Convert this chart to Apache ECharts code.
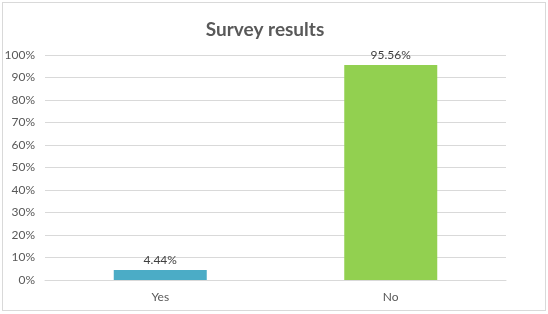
<!DOCTYPE html>
<html><head><meta charset="utf-8">
<script src="https://cdn.jsdelivr.net/npm/echarts@6/dist/echarts.min.js"></script>
<style>html,body{margin:0;padding:0;background:#fff}#c{width:548px;height:314px}
#f{position:absolute;left:2px;top:2px;width:542px;height:307px;border:1px solid #d9d9d9;pointer-events:none}</style>
</head><body><div id="c"></div><div id="f"></div>
<script>
const categories = ['Yes', 'No'];
const values = [4.44, 95.56];
const barColors = ['#4BACC6', '#92D050'];
const chart = echarts.init(document.getElementById('c'));
chart.setOption({
  animation: false,
  title: { text: 'Survey results', left: 260, textAlign: 'center', top: 15,
    textStyle: { fontFamily: 'Lato', fontSize: 19, fontWeight: 'bold', color: '#595959' } },
  grid: { left: 45, right: 42, top: 55, bottom: 34 },
  xAxis: { type: 'category', data: categories,
    axisLine: { lineStyle: { color: '#d9d9d9' } }, axisTick: { show: false },
    axisLabel: { color: '#595959', fontFamily: 'Lato', fontSize: 12, margin: 11 } },
  yAxis: { type: 'value', min: 0, max: 100, interval: 10,
    axisLabel: { formatter: '{value}%', color: '#595959', fontFamily: 'Lato', fontSize: 12, margin: 10 },
    splitLine: { lineStyle: { color: '#d9d9d9' } }, axisLine: { show: false }, axisTick: { show: false } },
  series: [{ type: 'bar', barWidth: 93,
    data: values.map((v, i) => ({ value: v, itemStyle: { color: barColors[i] } })),
    label: { show: true, position: 'top', formatter: p => p.value.toFixed(2) + '%',
      color: '#404040', fontFamily: 'Lato', fontSize: 12, distance: 4 } }]
});
</script></body></html>
